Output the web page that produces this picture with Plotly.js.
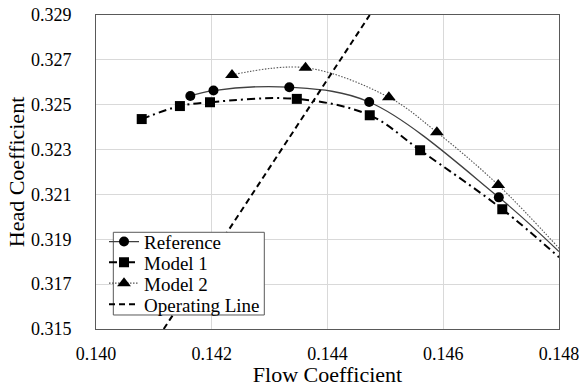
<!DOCTYPE html>
<html>
<head>
<meta charset="utf-8">
<script src="https://cdn.plot.ly/plotly-3.0.1.min.js"></script>
<style>html,body{margin:0;padding:0;background:#fff;}#chart{width:579px;height:387px;}</style>
</head>
<body>
<div id="chart"></div>
<script>
// Data (last point of each curve is where the curve meets the right edge, no marker)
const refX = [0.14163, 0.14203, 0.14334, 0.14472, 0.14696, 0.14800];
const refY = [0.32539, 0.32563, 0.32578, 0.32512, 0.32087, 0.31845];
const m1X = [0.14079, 0.14145, 0.14197, 0.14347, 0.14473, 0.14560, 0.14702, 0.14800];
const m1Y = [0.32436, 0.32494, 0.32511, 0.32526, 0.32453, 0.32297, 0.32034, 0.31820];
const m2X = [0.14235, 0.14362, 0.14506, 0.14589, 0.14695, 0.14800];
const m2Y = [0.32633, 0.32665, 0.32533, 0.32377, 0.32142, 0.31860];
const opX = [0.14117, 0.14473];
const opY = [0.31500, 0.32900];
const names = ["Reference", "Model 1", "Model 2", "Operating Line"];
const xTicks = [0.140, 0.142, 0.144, 0.146, 0.148];
const yTicks = [0.315, 0.317, 0.319, 0.321, 0.323, 0.325, 0.327, 0.329];

const FONT = "Liberation Serif";
function colors(n){ return Array.from({length:n}, (_,i)=> i===n-1 ? "rgba(0,0,0,0)" : "#000"); }

const traces = [
  {x: refX, y: refY, name: names[0], mode: "lines+markers", legend: "legend",
   line: {color: "#404040", width: 1.3, shape: "spline", smoothing: 1},
   marker: {symbol: "circle", size: 10, color: colors(refX.length)}},
  {x: m1X, y: m1Y, name: names[1], mode: "lines+markers", legend: "legend2",
   line: {color: "#000", width: 2, dash: "8px,4px,2px,4px", shape: "spline", smoothing: 1},
   marker: {symbol: "square", size: 10, color: colors(m1X.length)}},
  {x: m2X, y: m2Y, name: names[2], mode: "lines+markers", legend: "legend3",
   line: {color: "#555", width: 1.1, dash: "1.5px,1.5px", shape: "spline", smoothing: 1},
   marker: {symbol: "triangle-up", size: 12, color: colors(m2X.length)}},
  {x: opX, y: opY, name: names[3], mode: "lines", legend: "legend4",
   line: {color: "#000", width: 2, dash: "6px,4px"}}
];

function leg(y){
  return {x: 0.0173, xanchor: "left", y: y, yanchor: "middle", bgcolor: "rgba(0,0,0,0)",
          borderwidth: 0, font: {family: FONT, size: 19, color: "#000"}};
}

const layout = {
  width: 579, height: 387,
  margin: {l: 96, r: 20, t: 15, b: 58},
  paper_bgcolor: "#fff", plot_bgcolor: "#fff",
  font: {family: FONT, color: "#000"},
  showlegend: true,
  legend: leg(0.278), legend2: leg(0.2124), legend3: leg(0.1455), legend4: leg(0.0787),
  xaxis: {
    range: [0.140, 0.148], tickvals: xTicks, tickformat: ".3f",
    showgrid: true, gridcolor: "#d9d9d9", gridwidth: 1, zeroline: false,
    showline: true, mirror: true, linecolor: "#595959", linewidth: 1,
    ticks: "", ticklabelstandoff: 8, ticklabeloverflow: "allow",
    tickfont: {family: FONT, size: 18, color: "#000"},
    title: {text: "Flow Coefficient", font: {family: FONT, size: 22, color: "#000"}, standoff: 0}
  },
  yaxis: {
    range: [0.315, 0.329], tickvals: yTicks, tickformat: ".3f",
    showgrid: true, gridcolor: "#d9d9d9", gridwidth: 1, zeroline: false,
    showline: true, mirror: true, linecolor: "#595959", linewidth: 1,
    ticks: "", ticklabelstandoff: 20, ticklabeloverflow: "allow",
    tickfont: {family: FONT, size: 18, color: "#000"},
    title: {text: "Head Coefficient", font: {family: FONT, size: 22, color: "#000"}, standoff: 0}
  },
  shapes: [{type: "rect", xref: "paper", yref: "paper", x0: 0.0374, x1: 0.3635, y0: 0.0446, y1: 0.308,
            line: {color: "#595959", width: 1}, fillcolor: "#fff", layer: "above"}]
};

Plotly.newPlot("chart", traces, layout, {displayModeBar: false, staticPlot: true});
</script>
</body>
</html>
